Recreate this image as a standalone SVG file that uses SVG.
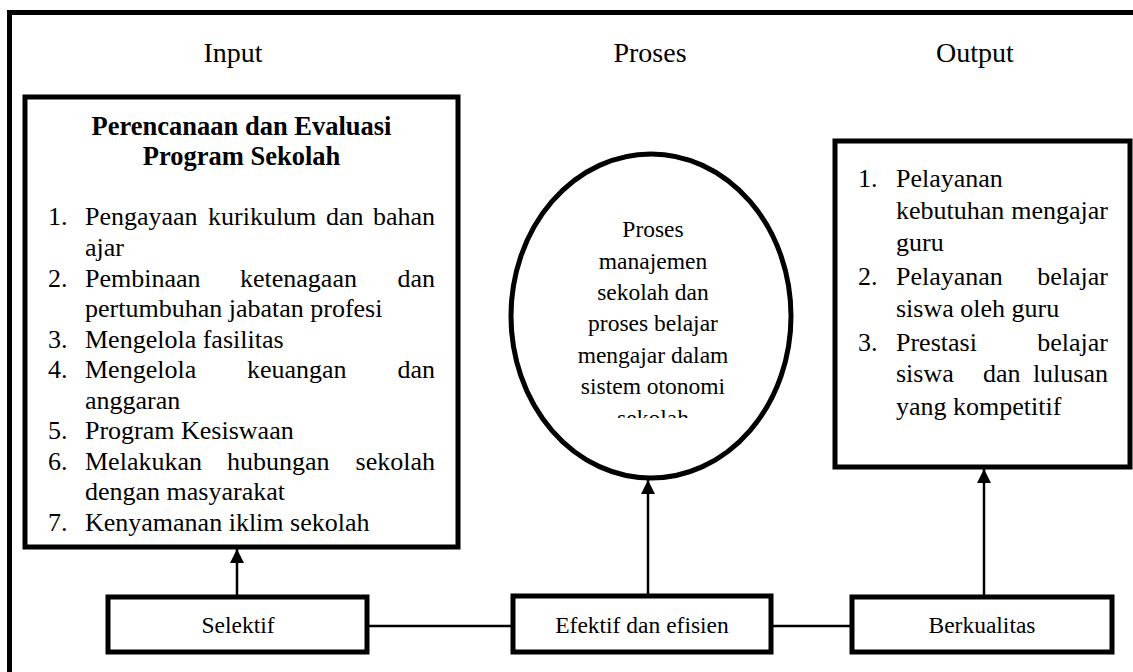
<svg xmlns="http://www.w3.org/2000/svg" width="1133" height="672" viewBox="0 0 1133 672">
<defs>
  <marker id="ah" markerUnits="userSpaceOnUse" markerWidth="16" markerHeight="16" refX="14" refY="7" orient="auto">
    <path d="M0,0 L14,7 L0,14 z" fill="#000"/>
  </marker>
  <clipPath id="clipEl"><rect x="500" y="150" width="300" height="268"/></clipPath>
</defs>
<rect width="1133" height="672" fill="#fff"/>
<g id="frame">
  <path d="M9.5,672 V12.5 H1133" fill="none" stroke="#000" stroke-width="5"/>
</g>
<g id="titles" style="font-family:'Liberation Serif',serif" font-size="28" text-anchor="middle" fill="#000">
  <text x="233" y="62">Input</text>
  <text x="650" y="62">Proses</text>
  <text x="975" y="62">Output</text>
</g>
<g id="connectors" stroke="#000" stroke-width="2.5" fill="none">
  <line x1="367" y1="626" x2="513" y2="626"/>
  <line x1="771" y1="626" x2="852" y2="626"/>
  <line x1="237" y1="597" x2="237" y2="549" marker-end="url(#ah)"/>
  <line x1="648" y1="596" x2="648" y2="480" marker-end="url(#ah)"/>
  <line x1="984" y1="597" x2="984" y2="469" marker-end="url(#ah)"/>
</g>
<g id="input-box">
  <rect x="25" y="97" width="433" height="450" fill="#fff" stroke="#000" stroke-width="5"/>
  <g style="font-family:'Liberation Serif',serif" font-size="26.5" font-weight="bold" text-anchor="middle">
    <text x="241.5" y="135">Perencanaan dan Evaluasi</text>
    <text x="241.5" y="165">Program Sekolah</text>
  </g>
  <g style="font-family:'Liberation Serif',serif" font-size="26">
    <text x="48" y="225">1.</text>
    <text y="225"><tspan x="85">Pengayaan</tspan><tspan x="208">kurikulum</tspan><tspan x="326">dan</tspan><tspan x="435" text-anchor="end">bahan</tspan></text>
    <text x="85" y="256">ajar</text>
    <text x="48" y="286.5">2.</text>
    <text y="286.5"><tspan x="85">Pembinaan</tspan><tspan x="240">ketenagaan</tspan><tspan x="435" text-anchor="end">dan</tspan></text>
    <text x="85" y="317">pertumbuhan jabatan profesi</text>
    <text x="48" y="347.5">3.</text>
    <text x="85" y="347.5">Mengelola fasilitas</text>
    <text x="48" y="378">4.</text>
    <text y="378"><tspan x="85">Mengelola</tspan><tspan x="247">keuangan</tspan><tspan x="435" text-anchor="end">dan</tspan></text>
    <text x="85" y="408.5">anggaran</text>
    <text x="48" y="439">5.</text>
    <text x="85" y="439">Program Kesiswaan</text>
    <text x="48" y="469.5">6.</text>
    <text y="469.5"><tspan x="85">Melakukan</tspan><tspan x="227">hubungan</tspan><tspan x="435" text-anchor="end">sekolah</tspan></text>
    <text x="85" y="500">dengan masyarakat</text>
    <text x="48" y="530.5">7.</text>
    <text x="85" y="530.5">Kenyamanan iklim sekolah</text>
  </g>
</g>
<g id="proses-ellipse">
  <ellipse cx="651" cy="316" rx="140" ry="162" fill="#fff" stroke="#000" stroke-width="5"/>
  <g style="font-family:'Liberation Serif',serif" font-size="23.5" text-anchor="middle" clip-path="url(#clipEl)">
    <text x="653" y="237">Proses</text>
    <text x="653" y="268.5">manajemen</text>
    <text x="653" y="300">sekolah dan</text>
    <text x="653" y="331">proses belajar</text>
    <text x="653" y="362.5">mengajar dalam</text>
    <text x="653" y="394">sistem otonomi</text>
    <text x="653" y="425.5">sekolah</text>
  </g>
</g>
<g id="output-box">
  <rect x="835" y="141" width="295" height="326" fill="#fff" stroke="#000" stroke-width="5"/>
  <g style="font-family:'Liberation Serif',serif" font-size="26">
    <text x="858" y="187">1.</text>
    <text x="896" y="187">Pelayanan</text>
    <text y="219"><tspan x="896">kebutuhan</tspan><tspan x="1108" text-anchor="end">mengajar</tspan></text>
    <text x="896" y="251">guru</text>
    <text x="858" y="285">2.</text>
    <text y="285"><tspan x="896">Pelayanan</tspan><tspan x="1108" text-anchor="end">belajar</tspan></text>
    <text x="896" y="317">siswa oleh guru</text>
    <text x="858" y="351">3.</text>
    <text y="351"><tspan x="896">Prestasi</tspan><tspan x="1108" text-anchor="end">belajar</tspan></text>
    <text y="382"><tspan x="896">siswa</tspan><tspan x="983">dan</tspan><tspan x="1108" text-anchor="end">lulusan</tspan></text>
    <text x="896" y="415">yang kompetitif</text>
  </g>
</g>
<g id="selektif">
  <rect x="108" y="597" width="259" height="55" fill="#fff" stroke="#000" stroke-width="5"/>
  <text style="font-family:'Liberation Serif',serif" font-size="23.5" x="238" y="633" text-anchor="middle">Selektif</text>
</g>
<g id="efektif">
  <rect x="513" y="596" width="258" height="56" fill="#fff" stroke="#000" stroke-width="5"/>
  <text style="font-family:'Liberation Serif',serif" font-size="23.5" x="642" y="633" text-anchor="middle">Efektif dan efisien</text>
</g>
<g id="berkualitas">
  <rect x="852" y="597" width="260" height="55" fill="#fff" stroke="#000" stroke-width="5"/>
  <text style="font-family:'Liberation Serif',serif" font-size="23.5" x="982" y="633" text-anchor="middle">Berkualitas</text>
</g>
</svg>
